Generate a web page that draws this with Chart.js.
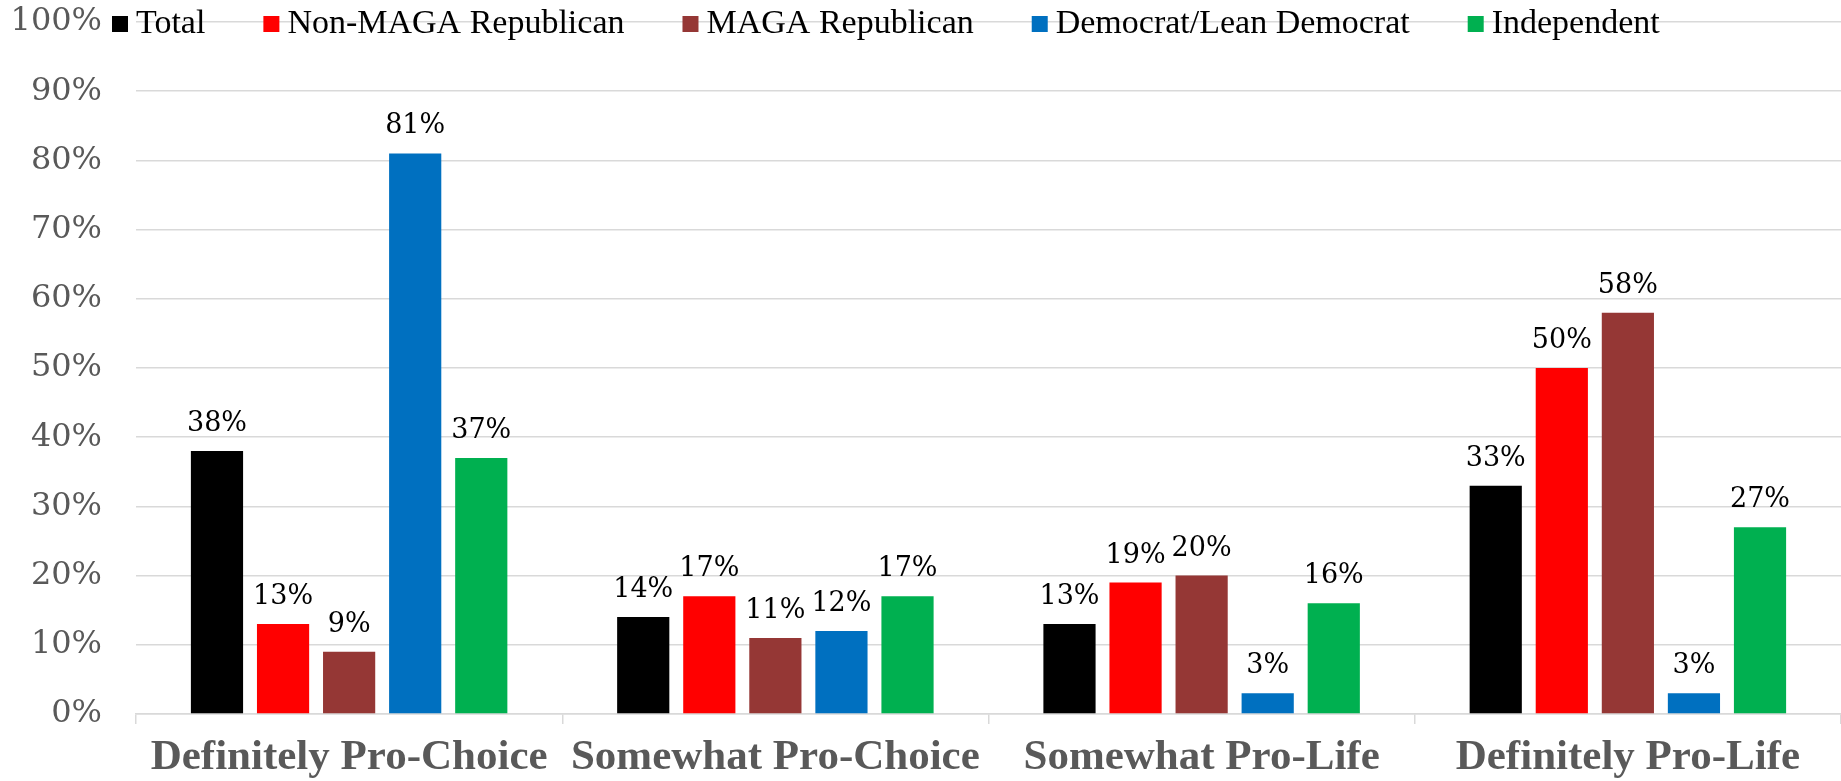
<!DOCTYPE html>
<html>
<head>
<meta charset="utf-8">
<script src="https://cdn.jsdelivr.net/npm/chart.js@4"></script>
<style>
  html, body { margin: 0; padding: 0; background: #fff; }
</style>
</head>
<body>
<canvas id="abortionChart" width="1841" height="781"></canvas>
<script>
// Abortion stance by party group, grouped bar chart.

const CATEGORIES = ['Definitely Pro-Choice', 'Somewhat Pro-Choice', 'Somewhat Pro-Life', 'Definitely Pro-Life'];
const GROUPS = ['Total', 'Non-MAGA Republican', 'MAGA Republican', 'Democrat/Lean Democrat', 'Independent'];
const GROUP_COLORS = ['#000000', '#FF0000', '#953735', '#0070C0', '#00B050'];

const TOTAL        = [38, 14, 13, 33];
const NON_MAGA_REP = [13, 17, 19, 50];
const MAGA_REP     = [9, 11, 20, 58];
const DEM_LEAN_DEM = [81, 12, 3, 3];
const INDEPENDENT  = [37, 17, 16, 27];

const Y_MIN = 0;
const Y_MAX = 100;
const Y_STEP = 10;

const SERIES = [TOTAL, NON_MAGA_REP, MAGA_REP, DEM_LEAN_DEM, INDEPENDENT];

// value labels above each bar
const barLabels = {
  id: 'barLabels',
  afterDatasetsDraw(chart) {
    const ctx = chart.ctx;
    ctx.save();
    ctx.font = '27px "DejaVu Serif"';
    ctx.fillStyle = '#000';
    ctx.textAlign = 'center';
    ctx.textBaseline = 'alphabetic';
    chart.data.datasets.forEach((ds, i) => {
      const meta = chart.getDatasetMeta(i);
      meta.data.forEach((bar, j) => {
        ctx.fillText(ds.data[j] + '%', bar.x, bar.y - 20);
      });
    });
    ctx.restore();
  }
};

// legend sits over the 100% gridline, like the original
const topLegend = {
  id: 'topLegend',
  afterDraw(chart) {
    const ctx = chart.ctx;
    ctx.save();
    ctx.font = '34px "Liberation Serif"';
    ctx.textBaseline = 'alphabetic';
    ctx.textAlign = 'left';
    let x = 112;
    chart.data.datasets.forEach(ds => {
      ctx.fillStyle = ds.backgroundColor;
      ctx.fillRect(x, 16, 16, 16);
      ctx.fillStyle = '#000';
      ctx.fillText(ds.label, x + 24, 33);
      x += 24 + ctx.measureText(ds.label).width + 58;
    });
    ctx.restore();
  }
};

const ctx = document.getElementById('abortionChart').getContext('2d');

new Chart(ctx, {
  type: 'bar',
  data: {
    labels: CATEGORIES,
    datasets: GROUPS.map((name, i) => ({
      label: name,
      data: SERIES[i],
      backgroundColor: GROUP_COLORS[i],
      borderWidth: 0,
      categoryPercentage: 0.775,
      barPercentage: 0.79
    }))
  },
  options: {
    responsive: false,
    animation: false,
    devicePixelRatio: 1,
    layout: { padding: { top: 22, right: 0, bottom: 0, left: 0 } },
    plugins: {
      legend: { display: false },
      tooltip: { enabled: false }
    },
    scales: {
      x: {
        afterFit(scale) { scale.height = 67; },
        grid: {
          offset: true,
          drawOnChartArea: false,
          drawTicks: true,
          tickLength: 10,
          color: '#d9d9d9',
          lineWidth: 1.5
        },
        border: { color: '#d9d9d9', width: 1.5 },
        ticks: {
          color: '#595959',
          font: { family: 'Liberation Serif', size: 43, weight: 'bold' },
          padding: 8,
          autoSkip: false,
          maxRotation: 0
        }
      },
      y: {
        min: Y_MIN,
        max: Y_MAX,
        afterFit(scale) {
          scale.width = 136;
          scale.paddingTop = 0;
          scale.paddingBottom = 0;
        },
        grid: {
          color: '#d9d9d9',
          lineWidth: 1.5,
          drawTicks: false
        },
        border: { display: false },
        ticks: {
          stepSize: Y_STEP,
          color: '#595959',
          font: { family: 'DejaVu Serif', size: 32 },
          padding: 34,
          callback: v => v + '%'
        }
      }
    }
  },
  plugins: [barLabels, topLegend]
});
</script>
</body>
</html>
